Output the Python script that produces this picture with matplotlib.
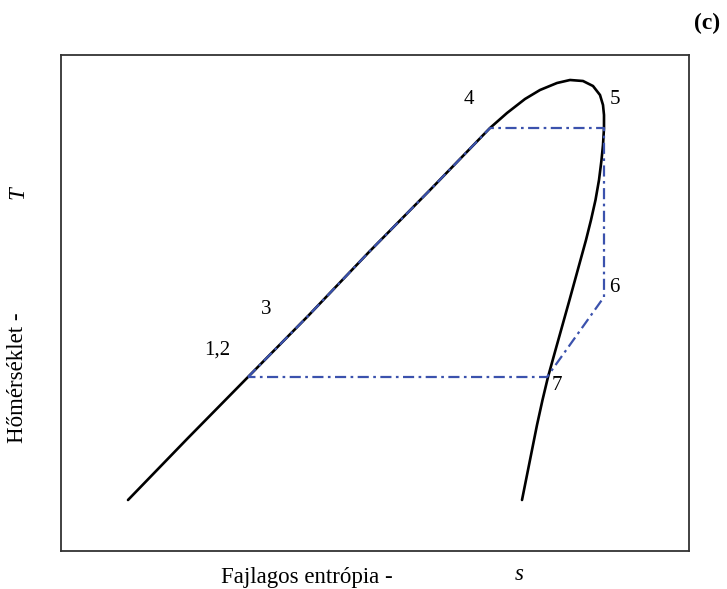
import numpy as np
import matplotlib.pyplot as plt

# saturation dome (s, T in image-pixel units)
dome_s = [128, 188, 248, 309, 369, 430, 490, 507, 525, 540, 557, 570, 583, 593, 600,
          603, 604, 604, 603, 601.5, 599, 595.5, 591, 586, 580.5, 575, 569.5, 562.5,
          555.5, 548, 542.5, 537, 532, 527, 522]
dome_T = [500, 438, 377, 315, 252, 190, 128, 113, 99, 90, 83, 80, 81, 86, 95,
          105, 115, 128, 145, 160, 180, 200, 220, 240, 260, 280, 300, 325,
          350, 377, 400, 425, 450, 475, 500]

# cycle states 1,2 -> 3 -> 4 -> 5 -> 6 -> 7 -> 1,2
cycle_s = [248, 309, 369, 430, 490, 604, 604, 547, 248]
cycle_T = [377, 315, 252, 190, 128, 128, 297, 377, 377]

point_labels = ["1,2", "3", "4", "5", "6", "7"]
label_s = [217, 266, 469, 615, 614, 557]
label_T = [350, 309, 100, 100, 288, 386]

W, H = 727, 589
fig = plt.figure(figsize=(W / 100, H / 100), dpi=100)
ax = fig.add_axes([61 / W, 1 - 551 / H, (689 - 61) / W, (551 - 55) / H])
ax.set_xlim(61, 689)
ax.set_ylim(551, 55)
ax.set_xticks([])
ax.set_yticks([])
for sp in ax.spines.values():
    sp.set_color("#333333")
    sp.set_linewidth(1.3)

serif = ["Liberation Serif", "DejaVu Serif"]

ax.plot(dome_s, dome_T, color="black", lw=1.9, solid_capstyle="round",
        solid_joinstyle="round", zorder=2)
ax.plot(cycle_s, cycle_T, color="#3b52ad", lw=1.6,
        dashes=(5, 2, 1.2, 2), zorder=3)

for lab, x, y in zip(point_labels, label_s, label_T):
    ax.text(x, y, lab, ha="center", va="center", fontsize=15, family=serif)

fig.text(707 / W, 1 - 23 / H, "(c)", ha="center", va="center",
         fontsize=17, fontweight="bold", family=serif)
fig.text(307 / W, 1 - 577 / H, "Fajlagos entrópia -", ha="center", va="center",
         fontsize=16.5, family=serif)
fig.text(519 / W, 1 - 574 / H, "s", ha="center", va="center",
         fontsize=16.5, style="italic", family=serif)
fig.text(18 / W, 1 - 378 / H, "Hőmérséklet -", ha="center", va="center",
         rotation=90, fontsize=16.5, family=serif)
fig.text(18 / W, 1 - 193 / H, "T", ha="center", va="center",
         rotation=90, fontsize=16.5, style="italic", family=serif)

fig.savefig("out.png", dpi=100)
